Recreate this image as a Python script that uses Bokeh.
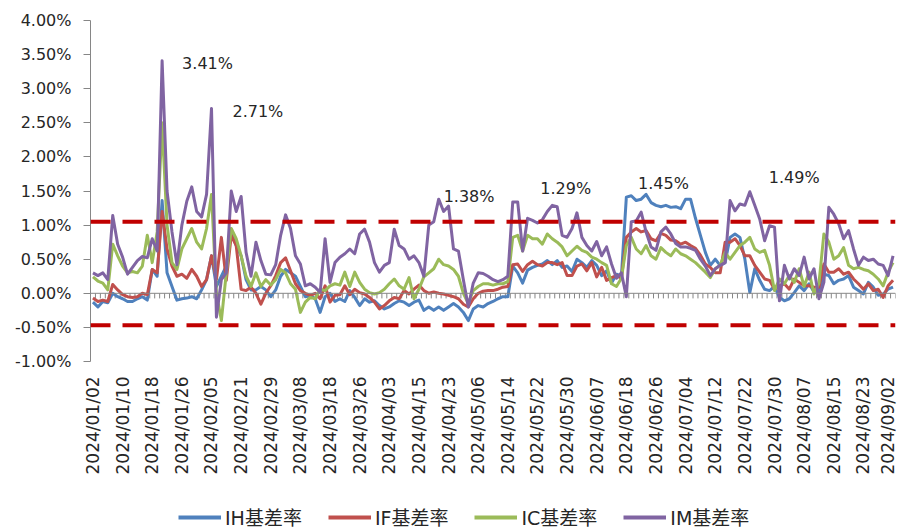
import math
from bokeh.plotting import figure
from bokeh.layouts import column
from bokeh.models import (ColumnDataSource, FixedTicker, PrintfTickFormatter, Span,
                          Legend, LegendItem, Range1d)
from bokeh.core.properties import value
from bokeh.embed import file_html
from bokeh.resources import INLINE

# ---------------- data ----------------
tick_labels = ["2024/01/02", "2024/01/10", "2024/01/18", "2024/01/26", "2024/02/05",
               "2024/02/21", "2024/02/29", "2024/03/08", "2024/03/18", "2024/03/26",
               "2024/04/03", "2024/04/15", "2024/04/23", "2024/05/06", "2024/05/14",
               "2024/05/22", "2024/05/30", "2024/06/07", "2024/06/18", "2024/06/26",
               "2024/07/04", "2024/07/12", "2024/07/22", "2024/07/30", "2024/08/07",
               "2024/08/15", "2024/08/23", "2024/09/02"]
tick_every = 6  # one label every 6 trading days

ih = [-0.13, -0.20, -0.12, -0.14, 0.00, -0.05, -0.08, -0.12, -0.12, -0.08,
      -0.05, -0.10, 0.35, 0.25, 1.36, 0.30, 0.10, -0.10, -0.08, -0.07,
      -0.05, -0.08, 0.05, 0.20, 0.55, 0.10, 0.25, 0.40, 0.90, 0.70,
      0.55, 0.20, 0.05, 0.05, 0.10, 0.05, -0.05, 0.05, 0.25, 0.35,
      0.30, 0.25, 0.10, -0.05, -0.03, -0.08, -0.28, -0.05, 0.00, -0.12,
      -0.08, -0.12, 0.04, -0.06, -0.18, -0.08, -0.13, -0.11, -0.18, -0.23,
      -0.20, -0.15, -0.11, -0.13, -0.18, -0.13, -0.10, -0.25, -0.20, -0.25,
      -0.20, -0.25, -0.20, -0.15, -0.20, -0.28, -0.40, -0.23, -0.18, -0.20,
      -0.15, -0.12, -0.08, -0.05, -0.05, 0.40, 0.30, 0.15, 0.34, 0.38,
      0.41, 0.43, 0.48, 0.42, 0.48, 0.38, 0.40, 0.32, 0.50, 0.45,
      0.38, 0.48, 0.41, 0.26, 0.33, 0.15, 0.28, 0.25, 1.41, 1.43,
      1.36, 1.38, 1.45, 1.33, 1.29, 1.27, 1.29, 1.26, 1.27, 1.24,
      1.38, 1.38, 1.10, 0.85, 0.60, 0.41, 0.50, 0.41, 0.45, 0.82,
      0.87, 0.82, 0.50, 0.01, 0.36, 0.19, 0.06, 0.04, 0.10, -0.06,
      -0.11, -0.08, 0.01, 0.11, 0.04, 0.14, 0.02, 0.04, 0.28, 0.26,
      0.14, 0.19, 0.21, 0.26, 0.09, 0.04, -0.01, 0.16, 0.09, -0.03,
      -0.01, 0.06, 0.09]

if_ = [-0.07, -0.12, -0.10, -0.12, 0.13, 0.05, -0.02, -0.05, -0.06, -0.05,
       0.00, -0.02, 0.35, 0.30, 1.20, 0.65, 0.40, 0.25, 0.28, 0.22,
       0.35, 0.25, 0.10, 0.20, 0.55, 0.20, 0.82, 0.19, 0.85, 0.70,
       0.06, 0.04, 0.09, 0.00, -0.16, 0.00, 0.11, 0.26, 0.45, 0.52,
       0.33, 0.14, 0.04, 0.00, -0.03, 0.00, -0.08, 0.11, -0.13, -0.03,
       -0.02, 0.11, -0.02, 0.06, 0.01, -0.01, -0.06, -0.13, -0.23, -0.18,
       -0.11, -0.06, -0.08, 0.04, -0.01, 0.06, 0.12, 0.04, 0.00, 0.02,
       0.00, -0.01, -0.03, -0.05, -0.08, -0.16, -0.20, -0.08, 0.00, 0.03,
       0.04, 0.04, 0.06, 0.09, 0.10, 0.42, 0.43, 0.32, 0.42, 0.47,
       0.42, 0.40, 0.45, 0.45, 0.42, 0.45, 0.26, 0.26, 0.40, 0.43,
       0.33, 0.45, 0.24, 0.38, 0.19, 0.23, 0.26, 0.22, 0.82, 0.90,
       0.95, 0.90, 0.92, 0.80, 0.77, 0.88, 0.85, 0.78, 0.77, 0.72,
       0.75, 0.70, 0.66, 0.56, 0.43, 0.38, 0.30, 0.30, 0.75, 0.75,
       0.80, 0.70, 0.55, 0.55, 0.41, 0.31, 0.21, 0.19, 0.06, 0.11,
       0.14, 0.06, 0.21, 0.16, 0.11, 0.11, 0.09, 0.09, 0.43, 0.31,
       0.31, 0.36, 0.28, 0.31, 0.21, 0.14, 0.06, 0.14, 0.04, 0.06,
       -0.06, 0.11, 0.19]

ic = [0.24, 0.18, 0.15, 0.05, 0.72, 0.55, 0.40, 0.30, 0.32, 0.30,
      0.40, 0.85, 0.45, 0.90, 2.50, 1.00, 0.45, 0.35, 0.65, 0.80,
      0.95, 0.75, 0.65, 0.95, 1.45, 0.00, -0.40, 0.30, 0.95, 0.80,
      0.55, 0.25, 0.10, 0.30, 0.10, 0.20, 0.12, 0.20, 0.35, 0.30,
      0.14, 0.06, -0.28, -0.13, -0.06, -0.08, 0.06, 0.04, 0.11, 0.14,
      0.12, 0.31, 0.10, 0.31, 0.16, 0.06, 0.01, -0.01, 0.01, 0.06,
      0.14, 0.21, 0.11, 0.06, 0.23, -0.08, 0.06, 0.24, 0.30, 0.36,
      0.50, 0.42, 0.40, 0.35, 0.25, 0.00, -0.15, 0.04, 0.10, 0.14,
      0.14, 0.12, 0.14, 0.14, 0.17, 0.82, 0.85, 0.62, 0.85, 0.80,
      0.80, 0.72, 0.87, 0.80, 0.75, 0.68, 0.55, 0.62, 0.69, 0.63,
      0.60, 0.53, 0.50, 0.45, 0.41, 0.14, 0.10, 0.22, 0.70, 0.82,
      0.65, 0.58, 0.70, 0.55, 0.50, 0.67, 0.60, 0.55, 0.65, 0.58,
      0.55, 0.50, 0.45, 0.38, 0.31, 0.23, 0.36, 0.41, 0.60, 0.50,
      0.60, 0.70, 0.75, 0.82, 0.65, 0.60, 0.63, 0.41, 0.04, 0.21,
      0.14, 0.26, 0.16, 0.36, 0.10, 0.31, -0.01, 0.15, 0.87, 0.75,
      0.50, 0.55, 0.67, 0.41, 0.36, 0.38, 0.35, 0.33, 0.28, 0.21,
      0.11, 0.31, 0.45]

im = [0.30, 0.26, 0.30, 0.20, 1.14, 0.72, 0.53, 0.28, 0.38, 0.48,
      0.54, 0.52, 0.80, 0.62, 3.41, 1.50, 0.90, 0.42, 1.00, 1.35,
      1.56, 1.20, 1.12, 1.45, 2.71, -0.35, 0.20, 0.30, 1.50, 1.20,
      1.42, 0.60, 0.25, 0.75, 0.48, 0.28, 0.27, 0.42, 0.85, 1.15,
      0.95, 0.55, 0.43, 0.11, 0.14, 0.09, 0.01, 0.80, 0.16, 0.45,
      0.53, 0.58, 0.65, 0.58, 0.87, 0.94, 0.75, 0.45, 0.31, 0.41,
      0.45, 0.94, 0.70, 0.65, 0.50, 0.55, 0.45, 0.25, 1.00, 1.05,
      1.38, 1.20, 1.28, 0.65, 0.62, 0.20, -0.20, 0.15, 0.30, 0.29,
      0.25, 0.20, 0.17, 0.20, 0.25, 1.34, 1.34, 0.62, 1.10, 1.07,
      1.03, 1.08, 1.20, 1.29, 1.27, 0.85, 0.82, 0.95, 1.18, 0.82,
      0.70, 0.62, 0.76, 0.55, 0.68, 0.43, 0.22, 0.30, -0.05, 1.05,
      1.06, 1.19, 0.90, 0.68, 0.63, 0.90, 0.97, 0.87, 0.73, 0.68,
      0.68, 0.66, 0.63, 0.50, 0.40, 0.26, 0.36, 0.41, 0.45, 1.36,
      1.21, 1.31, 1.29, 1.49, 1.29, 1.09, 0.77, 0.99, 0.97, -0.11,
      0.41, 0.21, 0.36, 0.26, 0.53, 0.21, 0.36, -0.08, 0.16, 1.26,
      1.16, 1.02, 0.80, 0.92, 0.65, 0.41, 0.53, 0.48, 0.50, 0.43,
      0.41, 0.26, 0.55]

series_names = ["IH基差率", "IF基差率", "IC基差率", "IM基差率"]
series_values = [ih, if_, ic, im]

upper_band = 1.05
lower_band = -0.47
y_ticks = [-1.0, -0.5, 0.0, 0.5, 1.0, 1.5, 2.0, 2.5, 3.0, 3.5, 4.0]

# annotated peaks: (series index, day index)
ann_series = [3, 3, 3, 3, 0, 3]
ann_day = [14, 24, 70, 93, 112, 133]

# ---------------- styling ----------------
colors = ["#4F81BD", "#C0504D", "#9BBB59", "#8064A2"]
ann_dx = [20, 21, 5, -12, -8, 19]
ann_dy = [3, 3, -3, -17, -11, -14]
FONT = "DejaVu Sans"
TXT = "#262626"
AXIS = "#868686"

n = len(ih)
x = list(range(n))

p = figure(width=897, height=500, output_backend="svg", toolbar_location=None,
           x_range=Range1d(-0.5, n - 0.5), y_range=Range1d(y_ticks[0], y_ticks[-1]),
           min_border_left=90, min_border_right=2, min_border_top=20,
           min_border_bottom=139)
p.outline_line_color = None
p.xgrid.visible = False
p.ygrid.visible = False
p.background_fill_color = "white"
p.border_fill_color = "white"

# y axis
p.yaxis.ticker = FixedTicker(ticks=y_ticks)
p.yaxis.formatter = PrintfTickFormatter(format="%.2f%%")
p.yaxis.axis_line_color = AXIS
p.yaxis.major_tick_line_color = AXIS
p.yaxis.major_tick_out = 7
p.yaxis.major_tick_in = 0
p.yaxis.minor_tick_line_color = None
p.yaxis.major_label_text_font = FONT
p.yaxis.major_label_text_font_size = "16px"
p.yaxis.major_label_text_color = TXT
p.yaxis.major_label_standoff = 12

# x axis (labels at bottom, axis line at zero)
tick_pos = list(range(0, n, tick_every))
p.xaxis.ticker = FixedTicker(ticks=tick_pos)
p.xaxis.major_label_overrides = {t: lab for t, lab in zip(tick_pos, tick_labels)}
p.xaxis.major_label_orientation = math.pi / 2
p.xaxis.axis_line_color = None
p.xaxis.major_tick_line_color = None
p.xaxis.minor_tick_line_color = None
p.xaxis.major_label_text_font = FONT
p.xaxis.major_label_text_font_size = "17px"
p.xaxis.major_label_text_color = TXT
p.xaxis.major_label_standoff = 9

# category tick marks on the zero line
edges = [i - 0.5 for i in range(n + 1)]
p.segment(x0=edges, y0=[0] * len(edges), x1=edges, y1=[-0.075] * len(edges),
          line_color=AXIS, line_width=1)
p.add_layout(Span(location=0, dimension="width", line_color=AXIS, line_width=1))

# band lines
for b in (upper_band, lower_band):
    p.add_layout(Span(location=b, dimension="width", line_color="#C00000",
                      line_width=4, line_dash="20 12"))

for name, vals, col in zip(series_names, series_values, colors):
    p.line(x, vals, line_color=col, line_width=3, line_join="round")

# annotations
src = ColumnDataSource(dict(
    x=ann_day,
    y=[series_values[s][d] for s, d in zip(ann_series, ann_day)],
    text=["%.2f%%" % series_values[s][d] for s, d in zip(ann_series, ann_day)],
    dx=ann_dx, dy=ann_dy))
p.text(x="x", y="y", text="text", x_offset="dx", y_offset="dy", source=src,
       text_font=value(FONT), text_font_size="16px", text_color=TXT,
       text_align="left", text_baseline="middle")

# legend strip below the chart (its frame is aligned with the chart frame)
lf = figure(width=897, height=30, output_backend="svg", toolbar_location=None,
            x_range=Range1d(0, 1), y_range=Range1d(0, 1),
            min_border_left=0, min_border_right=0, min_border_top=0,
            min_border_bottom=0)
lf.xaxis.visible = False
lf.yaxis.visible = False
lf.xgrid.visible = False
lf.ygrid.visible = False
lf.outline_line_color = None
# legend-only renderers (a single undefined point, nothing is drawn)
leg_renderers = [lf.line([0.0], [float("nan")], line_color=col, line_width=4)
                 for col in colors]
legend = Legend(items=[LegendItem(label=nm, renderers=[r])
                       for nm, r in zip(series_names, leg_renderers)],
                orientation="horizontal", location=(88, 0),
                glyph_width=43, glyph_height=16, label_standoff=4, spacing=26,
                padding=0, margin=0, border_line_color=None,
                background_fill_alpha=0,
                label_text_font="DejaVu Sans, Noto Sans CJK SC",
                label_text_font_size="19px", label_text_color=TXT)
lf.add_layout(legend, "center")

open("out.html", "w").write(file_html(column(p, lf, spacing=0), INLINE))
